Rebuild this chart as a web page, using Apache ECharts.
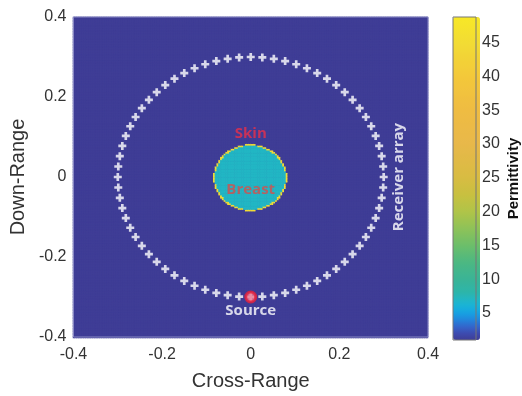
<!DOCTYPE html>
<html><head><meta charset="utf-8">
<script src="https://cdn.jsdelivr.net/npm/echarts@6/dist/echarts.min.js"></script>
<style>html,body{margin:0;padding:0;background:#fff}#c{width:522px;height:396px}</style>
</head><body><div id="c"></div>
<script>
// ---- Phantom model (permittivity map) ----
const regionNames = ['Background', 'Breast', 'Skin'];
const regionPermittivity = [1, 7, 45];
const regionOuterRadius = [Infinity, 0.0795, 0.083];
const cellSize = 0.004;
const domainMin = -0.4, domainMax = 0.4;

// ---- Antennas ----
const receiverAnglesDeg = [0,5,10,15,20,25,30,35,40,45,50,55,60,65,70,75,80,85,
  90,95,100,105,110,115,120,125,130,135,140,145,150,155,160,165,170,175,
  180,185,190,195,200,205,210,215,220,225,230,235,240,245,250,255,260,265,
  270,275,280,285,290,295,300,305,310,315,320,325,330,335,340,345,350,355];
const receiverRadius = 0.3;
const sourceX = [0];
const sourceY = [-0.3];

// ---- Annotations ----
const annotationTexts = ['Skin', 'Breast', 'Source', 'Receiver array'];
const annotationX = [0, 0, 0, 0.335];
const annotationY = [0.108, -0.031, -0.335, 0];

// ---- Ticks ----
const axisTicks = [-0.4, -0.2, 0, 0.2, 0.4];
const colorbarTicks = [5, 10, 15, 20, 25, 30, 35, 40, 45];
const colorbarMin = 1, colorbarMax = 48.8;

// colormap key stops
const cmapValues = [1, 2, 3, 4, 5, 6, 7, 8, 10, 12.5, 15, 17.5, 20, 22.5, 25, 30, 35, 40, 45, 48.8];
const cmapColors = ['#3f3d96','#3d4cb0','#3366cc','#2286dc','#16a2e2','#19b3d8','#22b6c4','#2cb5aa',
  '#3ab496','#4cb882','#6cbe6a','#8ec258','#b0c448','#c8c040','#d8bc42','#e8b84a','#efbc42','#f3c83a','#f2dc34','#f8e826'];

function hex(c){return [parseInt(c.slice(1,3),16),parseInt(c.slice(3,5),16),parseInt(c.slice(5,7),16)];}
function colorAt(v){
  for (let k=0;k<cmapValues.length-1;k++){
    if (v<=cmapValues[k+1]){
      const t=(v-cmapValues[k])/(cmapValues[k+1]-cmapValues[k]);
      const a=hex(cmapColors[k]), b=hex(cmapColors[k+1]);
      return 'rgb('+a.map((x,i)=>Math.round(x+(b[i]-x)*t)).join(',')+')';
    }
  }
  return cmapColors[cmapColors.length-1];
}
const vmColors=[];
for (let s=0;s<=200;s++){ vmColors.push(colorAt(colorbarMin+(colorbarMax-colorbarMin)*s/200)); }

// build heatmap cells
const N = Math.round((domainMax-domainMin)/cellSize);
const cats = [];
for (let i=0;i<N;i++) cats.push(i);
const cells = [];
for (let i=0;i<N;i++){
  const cx = domainMin + (i+0.5)*cellSize;
  for (let j=0;j<N;j++){
    const cy = domainMin + (j+0.5)*cellSize;
    const r = Math.hypot(cx, cy);
    let val = regionPermittivity[0];
    if (r <= regionOuterRadius[1]) val = regionPermittivity[1];
    else if (r <= regionOuterRadius[2]) val = regionPermittivity[2];
    cells.push([i, j, val]);
  }
}

const receivers = receiverAnglesDeg.map(a => [receiverRadius*Math.cos(a*Math.PI/180), receiverRadius*Math.sin(a*Math.PI/180)]);
const sources = sourceX.map((x,i)=>[x, sourceY[i]]);

const annStyles = [
  {color:'#e8304a', rotate:0},
  {color:'#d4504c', rotate:0},
  {color:'#ffffff', rotate:0},
  {color:'#ffffff', rotate:90}
];
const annData = annotationTexts.map((t,i)=>({
  value:[annotationX[i], annotationY[i]],
  label:{show:true, formatter:t, position:'inside', color:annStyles[i].color, rotate:annStyles[i].rotate,
    fontFamily:'Open Sans', fontWeight:'bold', fontSize:15}
}));

const font = 'Liberation Sans';
const G = {left:73, top:17, width:355, height:321};
const fmt = v => { const r = Math.round(v*10)/10; return r===0 ? '0' : String(r); };

const chart = echarts.init(document.getElementById('c'), null, {renderer:'canvas'});
chart.setOption({
  animation:false,
  backgroundColor:'#fff',
  grid:[
    Object.assign({show:true, backgroundColor:colorAt(regionPermittivity[0]), borderWidth:0}, G),
    Object.assign({show:true, borderColor:'#8a8ac4', borderWidth:1, backgroundColor:'transparent', z:3}, G),
    {left:453, top:17, width:27, height:323, show:true, borderColor:'#777', borderWidth:1, backgroundColor:'transparent', z:6}
  ],
  xAxis:[
    {type:'category', gridIndex:0, data:cats, show:false},
    {type:'value', gridIndex:1, min:-0.4, max:0.4, interval:0.2, name:'Cross-Range', nameLocation:'middle', nameGap:34,
      nameTextStyle:{fontFamily:font, fontSize:20, color:'#333'},
      axisLine:{show:false}, axisTick:{show:false}, splitLine:{show:false},
      axisLabel:{fontFamily:font, fontSize:16, color:'#333', margin:10, formatter:fmt}},
    {type:'value', gridIndex:2, show:false, min:0, max:1}
  ],
  yAxis:[
    {type:'category', gridIndex:0, data:cats, show:false},
    {type:'value', gridIndex:1, min:-0.4, max:0.4, interval:0.2, name:'Down-Range', nameLocation:'middle', nameGap:42,
      nameTextStyle:{fontFamily:font, fontSize:20, color:'#333'},
      axisLine:{show:false}, axisTick:{show:false}, splitLine:{show:false},
      axisLabel:{fontFamily:font, fontSize:16, color:'#333', margin:7, formatter:fmt}},
    {type:'value', gridIndex:2, position:'right', min:colorbarMin, max:colorbarMax,
      name:'Permittivity', nameLocation:'middle', nameGap:30, nameRotate:90,
      nameTextStyle:{fontFamily:font, fontSize:15, fontWeight:'bold', color:'#111'},
      axisLine:{show:false}, splitLine:{show:false},
      axisTick:{show:true, length:2, customValues:colorbarTicks, lineStyle:{color:'#333'}},
      axisLabel:{fontFamily:font, fontSize:16, color:'#333', margin:6, customValues:colorbarTicks}}
  ],
  visualMap:{
    type:'continuous', seriesIndex:0, min:colorbarMin, max:colorbarMax, calculable:false,
    orient:'vertical', left:453, top:17, itemWidth:27, itemHeight:323, padding:0,
    text:null, showLabel:false, hoverLink:false,
    inRange:{color:vmColors}
  },
  series:[
    {type:'heatmap', xAxisIndex:0, yAxisIndex:0, data:cells, progressive:0, emphasis:{disabled:true}},
    {type:'scatter', xAxisIndex:1, yAxisIndex:1, z:5, data:receivers,
      symbol:'path://M3,0H6V3H9V6H6V9H3V6H0V3H3Z', symbolSize:8, itemStyle:{color:'#ffffff'}},
    {type:'scatter', xAxisIndex:1, yAxisIndex:1, z:6, data:sources, symbol:'circle', symbolSize:10,
      itemStyle:{color:'#f07890', borderColor:'#e8203a', borderWidth:3}},
    {type:'scatter', xAxisIndex:1, yAxisIndex:1, z:7, data:annData, symbolSize:0}
  ]
});
</script></body></html>
